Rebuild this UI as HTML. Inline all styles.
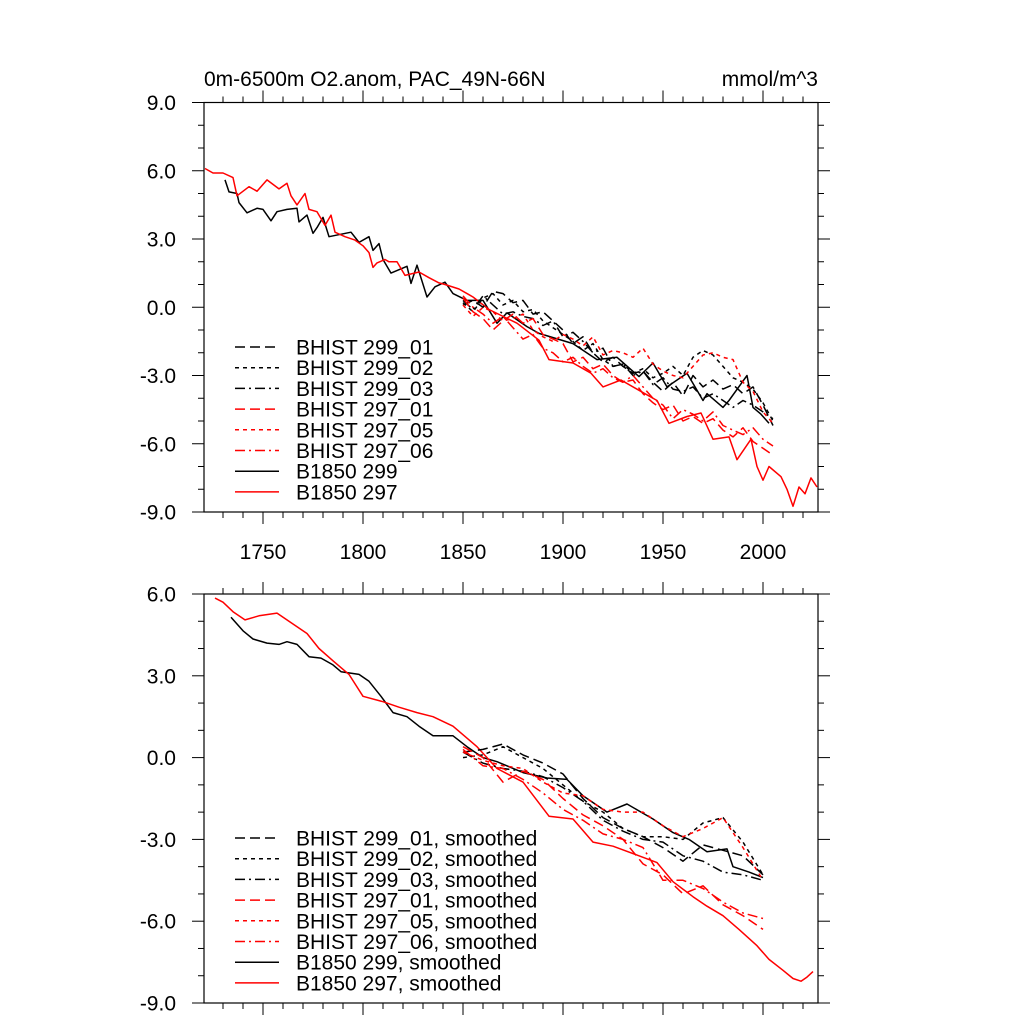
<!DOCTYPE html>
<html><head><meta charset="utf-8"><style>
html,body{margin:0;padding:0;background:#fff;}
svg{display:block;font-family:"Liberation Sans",sans-serif;}
</style></head><body>
<svg id="chart" width="1024" height="1024" viewBox="0 0 1024 1024" xmlns="http://www.w3.org/2000/svg">
<text x="204" y="86" font-size="21">0m-6500m O2.anom, PAC_49N-66N</text>
<text x="818" y="86" font-size="21" text-anchor="end">mmol/m^3</text>
<g id="top"></g><g id="bot"></g>
</svg>
<script>
// ---------- DATA ----------
const histYears = [1850,1855,1860,1865,1870,1875,1880,1885,1890,1895,1900,1905,1910,1915,1920,1925,1930,1935,1940,1945,1950,1955,1960,1965,1970,1975,1980,1985,1990,1995,2000,2005];
const h299_01 = [0.1,0.3,0.0,0.7,0.6,0.2,0.3,-0.3,-0.2,-0.6,-1.0,-1.6,-1.3,-2.0,-2.4,-2.2,-2.6,-2.9,-2.8,-3.3,-3.7,-3.3,-3.9,-3.0,-3.5,-3.2,-3.6,-3.4,-3.8,-3.5,-4.3,-5.2];
const h299_02 = [0.2,-0.2,0.4,0.6,0.1,0.3,-0.2,-0.1,-0.6,-0.9,-1.2,-1.5,-1.9,-1.6,-2.3,-2.6,-2.5,-2.9,-2.7,-3.1,-2.9,-2.6,-3.0,-2.2,-1.9,-2.1,-2.6,-3.1,-3.3,-3.6,-4.2,-5.0];
const h299_03 = [0.3,-0.1,0.5,0.1,-0.3,-0.2,-0.4,-0.5,-0.8,-0.6,-1.3,-1.1,-1.5,-2.0,-1.8,-2.6,-2.5,-3.0,-2.8,-3.4,-3.1,-3.6,-3.7,-3.5,-4.0,-3.8,-4.1,-4.4,-4.1,-4.3,-4.6,-4.9];
const h297_01 = [0.4,-0.2,-0.5,-1.0,-0.6,-0.3,-0.7,-0.5,-1.2,-1.4,-1.6,-2.4,-2.2,-2.7,-2.5,-3.0,-3.3,-3.2,-3.8,-4.2,-4.5,-4.3,-5.0,-4.8,-5.1,-4.9,-5.4,-5.7,-5.3,-5.9,-6.2,-6.5];
const h297_05 = [0.1,-0.4,0.0,-0.2,-0.6,-0.5,-0.3,-1.0,-1.3,-1.5,-1.2,-1.4,-1.7,-1.3,-2.1,-1.9,-2.0,-2.2,-1.8,-2.5,-2.8,-3.0,-3.1,-2.6,-2.1,-2.0,-2.2,-2.3,-3.3,-3.7,-4.6,-5.1];
const h297_06 = [0.5,0.0,-0.3,-0.7,-0.4,-0.9,-1.4,-1.2,-1.8,-2.0,-2.4,-2.2,-2.6,-2.9,-2.7,-3.1,-3.3,-3.0,-3.5,-4.0,-4.3,-4.9,-4.5,-4.7,-5.0,-4.6,-5.2,-5.4,-5.6,-5.3,-5.8,-6.1];

const b297Years = [1721,1725,1730,1735,1737,1743,1747,1752,1758,1762,1764,1767,1771,1773,1777,1781,1784,1786,1791,1796,1800,1803,1805,1807,1811,1813,1817,1821,1828,1833,1838,1841,1848,1853,1855,1863,1877,1888,1893,1905,1914,1920,1929,1938,1947,1953,1962,1969,1975,1983,1987,1994,1997,2000,2003,2009,2012,2015,2018,2021,2024,2027];
const b297Vals  = [6.1,5.9,5.9,5.7,4.9,5.3,5.1,5.6,5.2,5.45,4.9,4.5,5.0,4.3,4.2,3.6,4.05,3.3,3.1,2.95,2.7,2.4,1.75,1.95,2.1,2.0,2.0,1.4,1.55,1.3,1.07,1.0,0.8,0.55,0.45,-0.1,-0.7,-1.45,-2.3,-2.45,-2.9,-3.5,-3.2,-3.65,-4.1,-5.1,-4.8,-4.65,-5.8,-5.7,-6.7,-5.8,-7.0,-7.6,-7.0,-7.45,-8.0,-8.75,-7.9,-8.2,-7.5,-7.9];
const b299Years = [1731,1733,1737,1738,1742,1747,1750,1754,1757,1762,1767,1768,1772,1775,1777,1780,1783,1794,1798,1803,1805,1808,1810,1814,1818,1822,1824,1827,1832,1836,1841,1845,1852,1860,1867,1872,1882,1888,1905,1917,1927,1938,1945,1952,1962,1970,1972,1980,1983,1992,1995,1999,2003];
const b299Vals  = [5.6,5.07,5.0,4.6,4.15,4.35,4.3,3.8,4.2,4.3,4.35,3.75,4.05,3.25,3.5,3.95,3.1,3.3,2.85,3.1,2.5,2.8,2.1,1.5,1.65,1.8,1.05,1.85,0.45,0.9,1.1,0.6,0.3,0.3,-0.7,-0.25,-0.85,-1.15,-1.6,-2.3,-2.2,-3.05,-2.45,-3.5,-2.9,-4.1,-3.8,-4.4,-4.1,-3.0,-4.4,-4.7,-5.1];

const smYears = [1850,1860,1870,1880,1890,1900,1910,1920,1930,1940,1950,1960,1970,1980,1990,2000];
const s299_01 = [0.2,0.3,0.5,0.1,-0.2,-0.6,-1.5,-2.2,-2.6,-2.9,-3.3,-3.8,-3.2,-3.4,-3.6,-4.3];
const s299_02 = [0.0,0.1,0.4,0.0,-0.4,-1.0,-1.6,-2.0,-2.6,-2.9,-2.9,-3.0,-2.4,-2.2,-3.1,-4.3];
const s299_03 = [0.2,-0.2,-0.4,-0.5,-0.7,-1.1,-1.6,-2.3,-2.7,-3.0,-3.1,-3.6,-3.8,-4.2,-4.3,-4.5];
const s297_01 = [0.4,0.0,-0.9,-0.5,-0.8,-1.5,-2.1,-2.5,-3.0,-3.9,-4.3,-5.0,-4.7,-5.4,-5.8,-6.3];
const s297_05 = [0.2,-0.1,-0.3,-0.4,-0.9,-1.3,-1.4,-1.9,-2.0,-2.0,-2.5,-2.9,-2.6,-2.2,-3.3,-4.5];
const s297_06 = [0.3,-0.3,-0.4,-0.8,-1.3,-1.9,-2.3,-2.8,-3.0,-3.3,-4.5,-4.5,-4.8,-5.3,-5.7,-5.9];

const sb297Years = [1726,1730,1735,1741,1748,1757,1765,1772,1778,1785,1793,1800,1810,1818,1827,1835,1845,1857,1867,1880,1893,1905,1915,1925,1938,1947,1955,1965,1972,1980,1988,1997,2003,2010,2015,2019,2022,2025];
const sb297Vals  = [5.85,5.7,5.35,5.05,5.2,5.3,4.9,4.55,4.0,3.55,3.05,2.25,2.05,1.85,1.65,1.5,1.15,0.4,-0.4,-0.9,-2.15,-2.25,-3.1,-3.25,-3.6,-3.85,-4.55,-5.1,-5.45,-5.8,-6.3,-6.9,-7.4,-7.8,-8.1,-8.2,-8.05,-7.85];
const sb299Years = [1734,1740,1745,1752,1758,1762,1767,1773,1779,1785,1789,1798,1803,1809,1815,1822,1828,1835,1845,1852,1860,1867,1880,1892,1902,1910,1922,1932,1945,1955,1963,1972,1982,1985,1993,2000];
const sb299Vals  = [5.15,4.65,4.35,4.2,4.15,4.25,4.15,3.7,3.65,3.4,3.15,3.05,2.8,2.25,1.65,1.5,1.15,0.8,0.8,0.4,0.0,-0.15,-0.55,-0.75,-0.8,-1.4,-2.0,-1.7,-2.25,-2.75,-3.0,-3.45,-3.35,-4.0,-4.2,-4.4];

const yTicksTop = [9,6,3,0,-3,-6,-9];
const yTicksBot = [6,3,0,-3,-6,-9];
const xTicks = [1750,1800,1850,1900,1950,2000];

// ---------- DRAWING ----------
const NS = "http://www.w3.org/2000/svg";
const L = 204, R = 818;
const xS = yr => 263 + (yr - 1750) * 2;
function mk(parent, tag, attrs){ const e=document.createElementNS(NS,tag); for(const k in attrs) e.setAttribute(k,attrs[k]); parent.appendChild(e); return e; }
const DASH = {solid:null, long:"10,5", short:"4,4", dashdot:"10,4,2,4"};

function panel(g, top, bot, ymax, ymin, yTicks, showXLabels){
  const yS = v => top + (ymax - v) * (bot - top) / (ymax - ymin);
  const frame = mk(g,'rect',{x:L,y:top,width:R-L,height:bot-top,fill:'none',stroke:'#000','stroke-width':1.2});
  
  
  for(let v=ymin; v<=ymax; v+=1){
    const major = yTicks.includes(v);
    const len = major?12:6, y=yS(v);
    const t1 = mk(g,'line',{x1:L-len,y1:y,x2:L,y2:y,stroke:'#000','stroke-width':1});
    
    
    const t2 = mk(g,'line',{x1:R,y1:y,x2:R+len,y2:y,stroke:'#000','stroke-width':1});
    
    
  }
  yTicks.forEach(v=>{
    const t = mk(g,'text',{x:176,y:yS(v)+7.5,'font-size':21,'text-anchor':'end'});
    t.textContent = v.toFixed(1);
    
    
  });
  for(let yr=1730; yr<=2020; yr+=10){
    const major = xTicks.includes(yr), len = major?12:6, x=xS(yr);
    const a = mk(g,'line',{x1:x,y1:bot,x2:x,y2:bot+len,stroke:'#000','stroke-width':1});
    
    
    const b = mk(g,'line',{x1:x,y1:top-len,x2:x,y2:top,stroke:'#000','stroke-width':1});
    
    
  }
  if(showXLabels) xTicks.forEach(yr=>{
    const t = mk(g,'text',{x:xS(yr),y:bot+47,'font-size':21,'text-anchor':'middle'});
    t.textContent = yr;
    
    
  });
  return yS;
}
function series(g, yS, years, vals, color, dash, name){
  const d = years.map((yr,i)=>(i?'L':'M')+xS(yr).toFixed(1)+','+yS(vals[i]).toFixed(1)).join('');
  const p = mk(g,'path',{d:d,fill:'none',stroke:color,'stroke-width':1.5,'stroke-linejoin':'round'});
  if(DASH[dash]) p.setAttribute('stroke-dasharray',DASH[dash]);
  
  
}
function legend(g, y0, entries){
  entries.forEach((e,i)=>{
    const y = y0 + i*20.7;
    const ln = mk(g,'line',{x1:235,y1:y,x2:279,y2:y,stroke:e[1],'stroke-width':1.5});
    if(DASH[e[2]]) ln.setAttribute('stroke-dasharray',DASH[e[2]]);
    
    
    const t = mk(g,'text',{x:296,y:y+7.5,'font-size':21});
    t.textContent = e[0];
    
    
  });
}

const gt = document.getElementById('top');


const ySt = panel(gt, 102.5, 512, 9, -9, yTicksTop, true);
series(gt, ySt, b299Years, b299Vals, '#000','solid','b1850-299-line');
series(gt, ySt, b297Years, b297Vals, '#f00','solid','b1850-297-line');
series(gt, ySt, histYears, h299_01, '#000','long','bhist-299-01-line');
series(gt, ySt, histYears, h299_02, '#000','short','bhist-299-02-line');
series(gt, ySt, histYears, h299_03, '#000','dashdot','bhist-299-03-line');
series(gt, ySt, histYears, h297_01, '#f00','long','bhist-297-01-line');
series(gt, ySt, histYears, h297_05, '#f00','short','bhist-297-05-line');
series(gt, ySt, histYears, h297_06, '#f00','dashdot','bhist-297-06-line');
legend(gt, 347, [['BHIST 299_01','#000','long'],['BHIST 299_02','#000','short'],['BHIST 299_03','#000','dashdot'],['BHIST 297_01','#f00','long'],['BHIST 297_05','#f00','short'],['BHIST 297_06','#f00','dashdot'],['B1850 299','#000','solid'],['B1850 297','#f00','solid']]);

const gb = document.getElementById('bot');


const ySb = panel(gb, 594, 1003, 6, -9, yTicksBot, false);
series(gb, ySb, sb299Years, sb299Vals, '#000','solid','b1850-299-smoothed-line');
series(gb, ySb, sb297Years, sb297Vals, '#f00','solid','b1850-297-smoothed-line');
series(gb, ySb, smYears, s299_01, '#000','long','bhist-299-01-smoothed-line');
series(gb, ySb, smYears, s299_02, '#000','short','bhist-299-02-smoothed-line');
series(gb, ySb, smYears, s299_03, '#000','dashdot','bhist-299-03-smoothed-line');
series(gb, ySb, smYears, s297_01, '#f00','long','bhist-297-01-smoothed-line');
series(gb, ySb, smYears, s297_05, '#f00','short','bhist-297-05-smoothed-line');
series(gb, ySb, smYears, s297_06, '#f00','dashdot','bhist-297-06-smoothed-line');
legend(gb, 838, [['BHIST 299_01, smoothed','#000','long'],['BHIST 299_02, smoothed','#000','short'],['BHIST 299_03, smoothed','#000','dashdot'],['BHIST 297_01, smoothed','#f00','long'],['BHIST 297_05, smoothed','#f00','short'],['BHIST 297_06, smoothed','#f00','dashdot'],['B1850 299, smoothed','#000','solid'],['B1850 297, smoothed','#f00','solid']]);
</script>
</body></html>
